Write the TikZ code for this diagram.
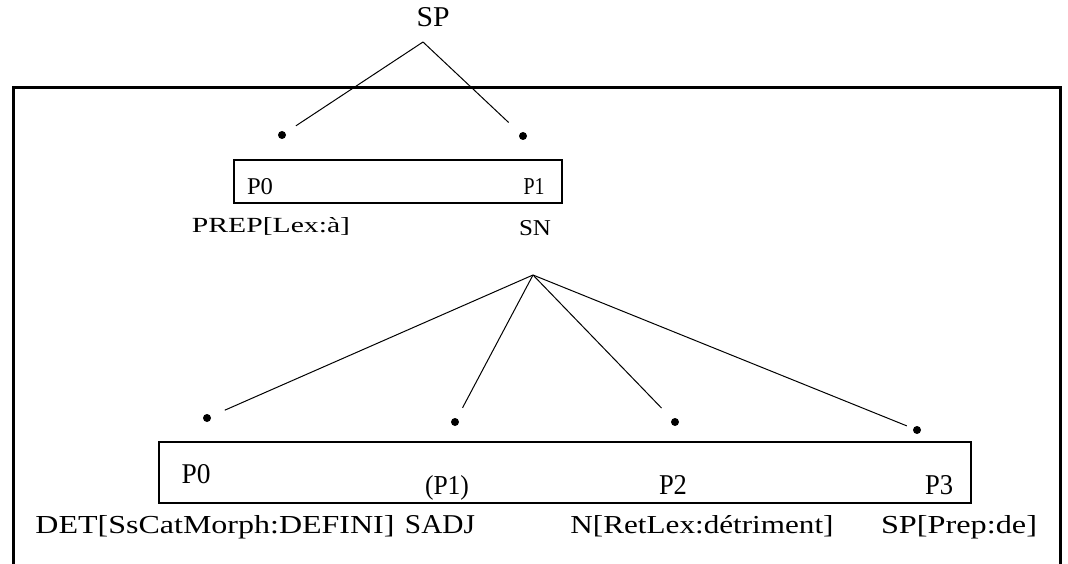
\documentclass[tikz,border=0pt]{standalone}
\usepackage{fontspec}
\setmainfont{Liberation Serif}
\newcommand\lbl[3]{\resizebox{#1pt}{#2pt}{#3}}
\begin{document}
\begin{tikzpicture}[x=1pt,y=-1pt,
  frame/.style={draw, line width=3pt},
  inbox/.style={draw, line width=2.6pt},
  branch/.style={line width=1pt},
  dot/.style={circle, fill, inner sep=0pt, minimum size=8pt},
  lab/.style={inner sep=0pt, anchor=base}]
\useasboundingbox (0,0) rectangle (1068,564);
\clip (0,0) rectangle (1068,564);
% outer frame (bottom edge lies below the picture)
\draw[frame] (13,620) -- (13,88) -- (1060,88) -- (1060,620);
% boxes
\draw[inbox] (234,160) rectangle (562,203);
\draw[inbox] (159,442) rectangle (971,503);
% top level
\node[lab] (SP) at (433,27) {\lbl{33}{19}{SP}};
\coordinate (spA) at (423,42);
\node[dot] (d1) at (282,135) {};
\node[dot] (d2) at (523,136) {};
\draw[branch, shorten >=12.5pt] (spA) -- (d1);
\draw[branch, shorten >=15.5pt] (spA) -- (d2);
\node[lab] (p0u) at (260,194) {\lbl{26}{16}{P0}};
\node[lab] (p1u) at (534,194) {\lbl{21}{16}{P1}};
\node[lab] (prep) at (271,232) {\lbl{158}{15}{PREP[Lex:à]}};
\node[lab] (SN) at (535,235) {\lbl{32}{15}{SN}};
% SN level
\coordinate (snA) at (533,275);
\node[dot] (D0) at (207,418) {};
\node[dot] (D1) at (455,422) {};
\node[dot] (D2) at (675,422) {};
\node[dot] (D3) at (917,430) {};
\draw[branch, shorten >=15.2pt] (snA) -- (D0);
\draw[branch, shorten >=11.8pt] (snA) -- (D1);
\draw[branch, shorten >=15.1pt] (snA) -- (D2);
\draw[branch, shorten >=6.8pt] (snA) -- (D3);
\node[lab] (p0l) at (196,483) {\lbl{29}{19}{P0}};
\node[lab] (p1l) at (447,494) {\lbl{44}{19}{(P1)}};
\node[lab] (p2l) at (673,494) {\lbl{28}{19}{P2}};
\node[lab] (p3l) at (939,494) {\lbl{28}{19}{P3}};
\node[lab] (det) at (215,533) {\lbl{359}{18}{DET[SsCatMorph:DEFINI]}};
\node[lab] (sadj) at (440,533) {\lbl{70}{18}{SADJ}};
\node[lab] (nlex) at (702,533) {\lbl{263}{18}{N[RetLex:détriment]}};
\node[lab] (spde) at (959,533) {\lbl{156}{18}{SP[Prep:de]}};
\end{tikzpicture}
\end{document}
